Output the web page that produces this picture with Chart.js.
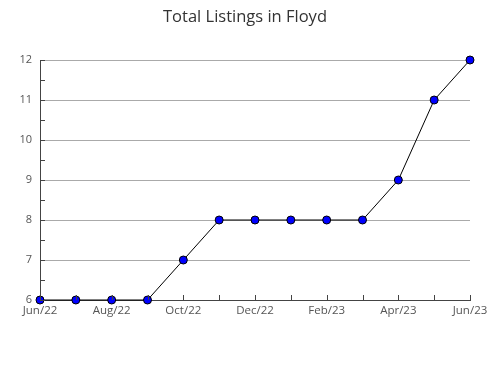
<!DOCTYPE html>
<html>
<head>
<meta charset="utf-8">
<script src="https://cdn.jsdelivr.net/npm/chart.js@4"></script>
<style>
  html, body { margin: 0; padding: 0; background: #fff; }
  #wrap { position: relative; width: 490px; height: 380px; }
  #title {
    position: absolute; left: 0; top: 6px; width: 490px;
    text-align: center; line-height: 20px;
    font-family: 'Open Sans', sans-serif; font-size: 16.5px; color: #333;
  }
</style>
</head>
<body>
<div id="wrap">
  <div id="title">Total Listings in Floyd</div>
  <canvas id="myChart" width="490" height="380"></canvas>
</div>
<script>
// data
var months = ['Jun/22', 'Jul/22', 'Aug/22', 'Sep/22', 'Oct/22', 'Nov/22', 'Dec/22',
              'Jan/23', 'Feb/23', 'Mar/23', 'Apr/23', 'May/23', 'Jun/23'];
var listings = [6, 6, 6, 6, 7, 8, 8, 8, 8, 8, 9, 11, 12];
var yMin = 6;
var yMax = 12;

// small tick marks drawn inside the plot, like the original
var innerTicks = {
    id: 'innerTicks',
    afterDatasetsDraw: function (chart) {
        var ctx = chart.ctx;
        var x = chart.scales.x;
        var y = chart.scales.y;
        ctx.save();
        ctx.strokeStyle = '#444';
        ctx.lineWidth = 1;
        ctx.beginPath();
        for (var i = 0; i < months.length; i++) {
            var px = Math.round(x.getPixelForValue(i)) + 0.5;
            ctx.moveTo(px, y.bottom);
            ctx.lineTo(px, y.bottom - 5);
        }
        for (var v = yMin; v <= yMax; v += 0.5) {
            var py = Math.round(y.getPixelForValue(v)) + 0.5;
            ctx.moveTo(x.left, py);
            ctx.lineTo(x.left + 5, py);
        }
        ctx.stroke();
        ctx.restore();
    }
};

var listingsChart = new Chart('myChart', {
    type: 'line',
    data: {
        labels: months,
        datasets: [{
            label: 'Total Listings',
            data: listings,
            borderColor: '#000',
            borderWidth: 1,
            backgroundColor: '#0000ff',
            pointBackgroundColor: '#0000ff',
            pointBorderColor: '#000',
            pointBorderWidth: 1,
            pointRadius: 4,
            tension: 0,
            clip: false
        }]
    },
    options: {
        responsive: false,
        animation: false,
        layout: { padding: { left: 0, right: 20, top: 60, bottom: 58 } },
        plugins: {
            legend: { display: false },
            tooltip: { enabled: false },
            title: { display: false }
        },
        scales: {
            x: {
                offset: false,
                grid: { display: false, drawTicks: false },
                border: { color: '#444' },
                ticks: {
                    autoSkip: false,
                    maxRotation: 0,
                    padding: 4,
                    color: '#555',
                    font: { family: 'Open Sans', size: 11.5 },
                    callback: function (val, idx) {
                        return idx % 2 === 0 ? months[idx] : '';
                    }
                },
                afterFit: function (scale) {
                    scale.height = 22;
                    scale.paddingLeft = 0;
                    scale.paddingRight = 0;
                }
            },
            y: {
                min: yMin,
                max: yMax,
                grid: { color: '#aaa', drawTicks: false },
                border: { color: '#444' },
                ticks: {
                    stepSize: 1,
                    padding: 8,
                    color: '#555',
                    font: { family: 'Open Sans', size: 11 }
                },
                afterFit: function (scale) {
                    scale.width = 40;
                    scale.paddingTop = 0;
                    scale.paddingBottom = 0;
                }
            }
        }
    },
    plugins: [innerTicks]
});
</script>
</body>
</html>
